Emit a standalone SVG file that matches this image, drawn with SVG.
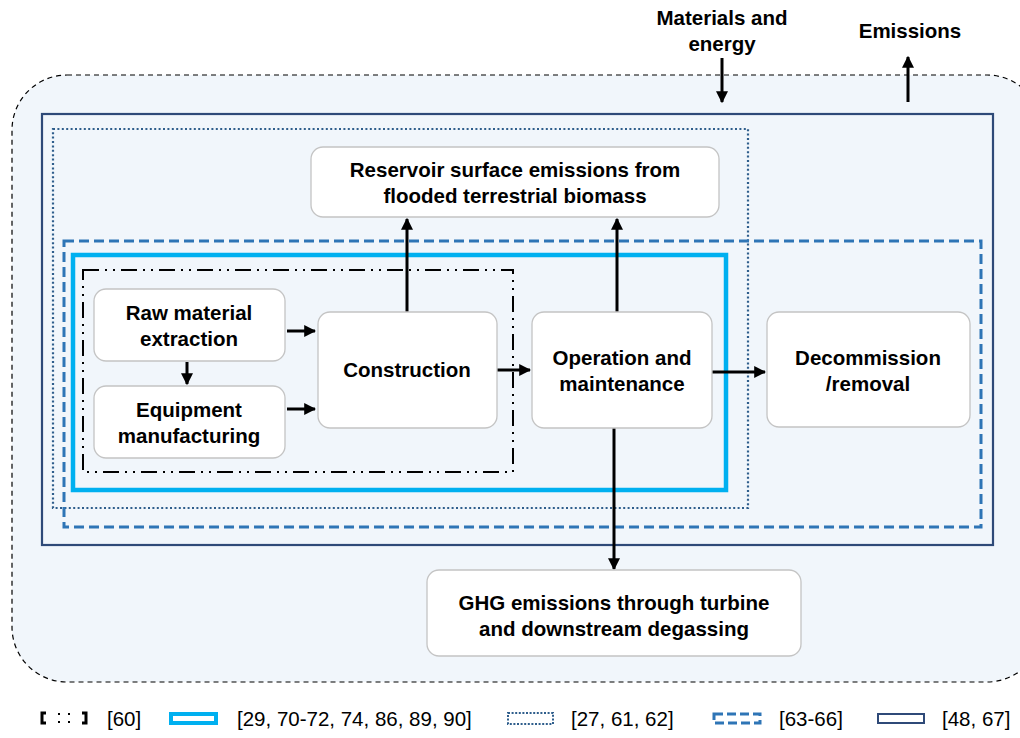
<svg xmlns="http://www.w3.org/2000/svg" width="1020" height="738" viewBox="0 0 1020 738">
<defs>
<marker id="ah" viewBox="0 0 10 10" refX="9" refY="5" markerWidth="4" markerHeight="4" orient="auto" markerUnits="strokeWidth">
<path d="M0,0 L10,5 L0,10 z" fill="#000"/>
</marker>
<style>
.node{fill:#fff;stroke:#c4c4c4;stroke-width:1.3}
.t{font-family:"Liberation Sans",Arial,sans-serif;font-weight:bold;font-size:20.5px;fill:#000;text-anchor:middle}
.lg{font-family:"Liberation Sans",Arial,sans-serif;font-size:20.5px;fill:#000}
.c{stroke:#000;stroke-width:3;fill:none;marker-end:url(#ah)}
.b-outer{fill:#f1f6fb;stroke:#000;stroke-width:1.2;stroke-dasharray:5 4}
.b-navy{fill:none;stroke:#2f4a78;stroke-width:2.2}
.b-dot{fill:none;stroke:#2f5e8c;stroke-width:2.2;stroke-dasharray:2 2.4}
.b-dash{fill:none;stroke:#2e75b6;stroke-width:3;stroke-dasharray:10 5}
.b-cyan{fill:none;stroke:#00b0f0;stroke-width:4.5}
.b-dd{fill:none;stroke:#000;stroke-width:2;stroke-dasharray:16 6 2 6 2 6}
</style>
</defs>
<rect width="1020" height="738" fill="#fff"/>
<g id="boundaries">
<rect class="b-outer" x="12" y="75" width="1030" height="607" rx="55"/>
<rect class="b-navy" x="42" y="114" width="951" height="431"/>
<rect class="b-dot" x="53" y="129" width="695" height="379"/>
<rect class="b-dash" x="64" y="241" width="917" height="286"/>
<rect class="b-cyan" x="73" y="255" width="653" height="235"/>
<rect class="b-dd" x="83" y="270" width="430" height="202"/>
</g>
<g id="flow-labels">
<text class="t" x="722" y="25">Materials and</text>
<text class="t" x="722" y="51">energy</text>
<text class="t" x="910" y="38">Emissions</text>
</g>
<g id="connectors">
<line class="c" x1="722" y1="58" x2="722" y2="102"/>
<line class="c" x1="908" y1="102" x2="908" y2="57"/>
<line class="c" x1="287" y1="331" x2="315" y2="331"/>
<line class="c" x1="287" y1="409" x2="315" y2="409"/>
<line class="c" x1="187" y1="362" x2="187" y2="384"/>
<line class="c" x1="497" y1="370" x2="530" y2="370"/>
<line class="c" x1="407" y1="312" x2="407" y2="219"/>
<line class="c" x1="617" y1="312" x2="617" y2="219"/>
<line class="c" x1="712" y1="372" x2="765" y2="372"/>
<line class="c" x1="614" y1="428" x2="614" y2="569"/>
</g>
<g id="node-raw">
<rect class="node" x="94" y="289" width="191" height="72" rx="12"/>
<text class="t" x="189" y="320">Raw material</text>
<text class="t" x="189" y="346">extraction</text>
</g>
<g id="node-equip">
<rect class="node" x="94" y="386" width="191" height="72" rx="12"/>
<text class="t" x="189" y="417">Equipment</text>
<text class="t" x="189" y="443">manufacturing</text>
</g>
<g id="node-construction">
<rect class="node" x="318" y="312" width="179" height="116" rx="12"/>
<text class="t" x="407" y="377">Construction</text>
</g>
<g id="node-om">
<rect class="node" x="532" y="312" width="180" height="116" rx="12"/>
<text class="t" x="622" y="365">Operation and</text>
<text class="t" x="622" y="391">maintenance</text>
</g>
<g id="node-decom">
<rect class="node" x="767" y="312" width="203" height="115" rx="12"/>
<text class="t" x="868" y="365">Decommission</text>
<text class="t" x="868" y="391">/removal</text>
</g>
<g id="node-reservoir">
<rect class="node" x="311" y="147" width="408" height="70" rx="12"/>
<text class="t" x="515" y="177">Reservoir surface emissions from</text>
<text class="t" x="515" y="203">flooded terrestrial biomass</text>
</g>
<g id="node-ghg">
<rect class="node" x="427" y="570" width="374" height="86" rx="12"/>
<text class="t" x="614" y="610">GHG emissions through turbine</text>
<text class="t" x="614" y="636">and downstream degassing</text>
</g>
<g id="legend">
<path d="M46,713 h-4 v10 h4" fill="none" stroke="#000" stroke-width="3"/>
<path d="M82,713 h4 v10 h-4" fill="none" stroke="#000" stroke-width="3"/>
<rect x="58" y="713" width="2" height="2" fill="#000"/><rect x="58" y="721" width="2" height="2" fill="#000"/>
<rect x="68" y="713" width="2" height="2" fill="#000"/><rect x="68" y="721" width="2" height="2" fill="#000"/>
<text class="lg" x="107" y="726">[60]</text>
<rect x="171" y="714" width="45" height="9" fill="none" stroke="#00b0f0" stroke-width="4"/>
<text class="lg" x="237" y="726">[29, 70-72, 74, 86, 89, 90]</text>
<rect x="508" y="713" width="45" height="11" fill="none" stroke="#2f5e8c" stroke-width="2" stroke-dasharray="2 1.6"/>
<text class="lg" x="571" y="726">[27, 61, 62]</text>
<rect x="714" y="714" width="46" height="9" fill="none" stroke="#2e75b6" stroke-width="3" stroke-dasharray="9 4"/>
<text class="lg" x="779" y="726">[63-66]</text>
<rect x="878" y="714" width="46" height="9" fill="none" stroke="#2f4a78" stroke-width="2"/>
<text class="lg" x="942" y="726">[48, 67]</text>
</g>
</svg>
